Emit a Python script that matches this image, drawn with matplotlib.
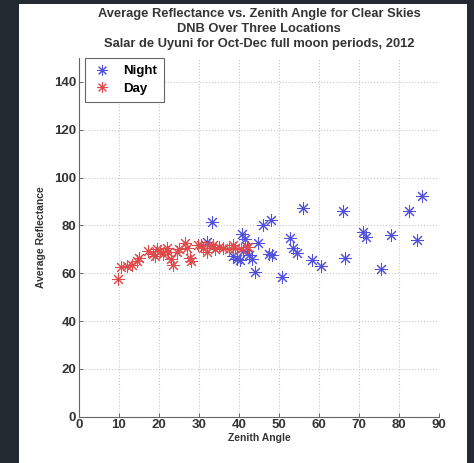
import matplotlib
matplotlib.use("Agg")
import matplotlib.pyplot as plt
from matplotlib.patches import Rectangle

plt.rcParams['font.family'] = ['Liberation Sans', 'DejaVu Sans']

title_lines = ["Average Reflectance vs. Zenith Angle for Clear Skies",
               "DNB Over Three Locations",
               "Salar de Uyuni for Oct-Dec full moon periods, 2012"]
xlabel = "Zenith Angle"
ylabel = "Average Reflectance"
xticks = [0, 10, 20, 30, 40, 50, 60, 70, 80, 90]
yticks = [0, 20, 40, 60, 80, 100, 120, 140]

night_x = [31.9, 33.2, 38.6, 39.5, 40.2, 40.7, 41.0, 41.5, 42.0, 42.5, 43.2, 44.0,
           44.8, 45.9, 47.5, 48.2, 47.9, 50.7, 52.8, 53.6, 54.5, 56.1, 58.3, 60.4,
           66.1, 66.5, 70.9, 71.8, 75.4, 78.0, 82.5, 84.6, 85.8]
night_y = [73.2, 81.5, 67.0, 66.0, 65.5, 76.5, 69.5, 74.5, 71.0, 67.5, 65.8, 60.5,
           72.5, 80.0, 68.0, 67.5, 82.3, 58.6, 74.6, 70.7, 68.4, 87.2, 65.5, 63.0,
           86.2, 66.3, 77.4, 75.2, 61.7, 76.0, 86.1, 73.9, 92.5]

day_x = [9.8, 10.5, 12.0, 13.2, 14.5, 15.0, 17.3, 18.5, 19.0, 19.5, 20.2, 21.0,
         22.0, 22.3, 23.0, 23.6, 24.4, 25.0, 26.5, 27.0, 27.8, 28.0, 29.8, 30.5,
         31.0, 31.9, 32.5, 33.6, 34.0, 35.0, 36.1, 37.5, 38.6, 39.0, 40.5, 42.3]
day_y = [57.5, 62.5, 63.0, 63.5, 65.0, 66.5, 69.5, 68.0, 67.0, 70.0, 69.5, 68.0,
         70.5, 69.0, 66.0, 63.5, 69.0, 70.0, 72.5, 70.5, 66.3, 65.0, 71.8, 72.0,
         70.5, 69.0, 72.0, 71.8, 70.0, 71.0, 70.4, 70.0, 71.8, 70.5, 70.0, 71.0]

fig = plt.figure(figsize=(4.74, 4.63), dpi=100, facecolor='#242a32')
fig.patches.append(Rectangle((19/474, 0), (467-19)/474, (463-4)/463,
                             transform=fig.transFigure, facecolor='white',
                             edgecolor='none', zorder=-10))

ax = fig.add_axes([79/474, 46.3/463, 360/474, (416.7-58)/463])
ax.set_zorder(1)
ax.set_facecolor('white')

ax.plot(night_x, night_y, linestyle='none', marker=(8, 2, 0), markersize=9,
        markeredgewidth=0.75, color='#5050dc', label='Night')
ax.plot(day_x, day_y, linestyle='none', marker=(8, 2, 0), markersize=9,
        markeredgewidth=0.75, color='#e04a4a', label='Day')

ax.set_xlim(0, 90)
ax.set_ylim(0, 150)
ax.set_xticks(xticks)
ax.set_yticks(yticks)
ax.grid(True, linestyle=':', color='#c8c8c8', linewidth=0.8)
ax.set_axisbelow(True)
for s in ['top', 'right']:
    ax.spines[s].set_visible(False)
for s in ['left', 'bottom']:
    ax.spines[s].set_color('#666666')
    ax.spines[s].set_linewidth(0.8)
ax.tick_params(direction='in', length=3, width=0.7, color='#666666',
               labelsize=9.5, labelcolor='#333333', pad=2)
for lab in ax.get_xticklabels() + ax.get_yticklabels():
    lab.set_fontweight('bold')

ax.set_xlabel(xlabel, fontsize=7.5, fontweight='bold', color='#333333', labelpad=1)
ax.set_ylabel(ylabel, fontsize=7.5, fontweight='bold', color='#333333', labelpad=6)

cx = 0.5 * (79 + 439) / 474
for i, line in enumerate(title_lines):
    fig.text(cx, 1 - (14 + 15 * i) / 463, line, ha='center', va='center',
             fontsize=9.3, fontweight='bold', color='#333333')

leg = ax.legend(loc='upper left', bbox_to_anchor=(0.018, 1.0), fancybox=False,
                framealpha=1, edgecolor='#666666', fontsize=9.5, handlelength=1.4,
                borderpad=0.55, labelspacing=0.4, handletextpad=0.9, borderaxespad=0,
                markerscale=0.85)
leg.get_frame().set_linewidth(0.8)
for t in leg.get_texts():
    t.set_fontweight('bold')

fig.savefig('out.png', dpi=100, facecolor=fig.get_facecolor())
